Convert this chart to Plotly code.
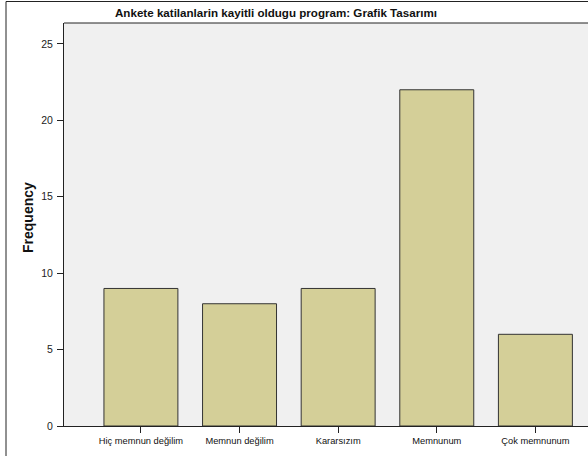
import plotly.graph_objects as go

categories = ["Hiç memnun değilim", "Memnun değilim", "Kararsızım", "Memnunum", "Çok memnunum"]
frequency = [9, 8, 9, 22, 6]
y_ticks = [0, 5, 10, 15, 20, 25]
title_text = "Ankete katilanlarin kayitli oldugu program: Grafik Tasarımı"
y_title = "Frequency"

W, H = 592, 456
ML, MR, MT, MB = 64, 0, 23, 30
PW, PH = W - ML - MR, H - MT - MB

def px_x(px):
    return (px - ML) / PW

def px_y(py):
    return (H - MB - py) / PH

FONT = "Liberation Sans Narrow, Arial Narrow, Liberation Sans, Arial, sans-serif"

fig = go.Figure(
    go.Bar(
        x=list(range(len(categories))),
        y=frequency,
        width=0.75,
        marker=dict(color="#D4CF98", line=dict(color="#333333", width=1)),
        hoverinfo="skip",
    )
)

fig.update_layout(
    width=W,
    height=H,
    margin=dict(l=ML, r=MR, t=MT, b=MB, pad=0),
    paper_bgcolor="white",
    plot_bgcolor="#F0F0F0",
    showlegend=False,
    font=dict(family=FONT, size=10, color="#222222"),
    xaxis=dict(
        range=[-0.78, 4.574],
        tickmode="array",
        tickvals=list(range(len(categories))),
        ticktext=categories,
        ticks="outside",
        ticklen=6,
        tickcolor="#222222",
        tickwidth=1,
        showline=True,
        linecolor="#222222",
        linewidth=1,
        showgrid=False,
        zeroline=False,
        tickfont=dict(family=FONT, size=9.3, color="#111111"),
    ),
    yaxis=dict(
        range=[0, 26.37],
        tickmode="array",
        tickvals=y_ticks,
        ticks="outside",
        ticklen=6,
        tickcolor="#222222",
        tickwidth=1,
        showline=True,
        linecolor="#222222",
        linewidth=1,
        showgrid=False,
        zeroline=False,
        ticklabelstandoff=2,
        tickfont=dict(family=FONT, size=10.5, color="#222222"),
    ),
    annotations=[
        dict(
            text="<b>" + title_text + "</b>",
            xref="paper", yref="paper",
            x=px_x(275.5), y=px_y(13),
            xanchor="center", yanchor="middle",
            showarrow=False,
            font=dict(family=FONT, size=11.6, color="#111111"),
        ),
        dict(
            text="<b>" + y_title + "</b>",
            xref="paper", yref="paper",
            x=px_x(28), y=px_y(218),
            xanchor="center", yanchor="middle",
            textangle=-90,
            showarrow=False,
            font=dict(family="Liberation Sans, Arial, sans-serif", size=14, color="#111111"),
        ),
    ],
    shapes=[
        dict(
            type="line", xref="paper", yref="paper",
            x0=px_x(6), x1=px_x(6), y0=px_y(H + 5), y1=px_y(1.5),
            line=dict(color="#222222", width=1),
            layer="above",
        ),
        dict(
            type="line", xref="paper", yref="paper",
            x0=px_x(6), x1=px_x(W + 5), y0=px_y(1.5), y1=px_y(1.5),
            line=dict(color="#222222", width=1),
            layer="above",
        ),
        dict(
            type="line", xref="paper", yref="paper",
            x0=0, x1=px_x(W + 5), y0=1, y1=1,
            line=dict(color="#222222", width=1),
            layer="above",
        ),
    ],
)

fig.write_html(
    "out.html",
    config={"displayModeBar": False, "staticPlot": True},
    post_script="document.body.style.margin='0';document.body.style.overflow='hidden';",
)
